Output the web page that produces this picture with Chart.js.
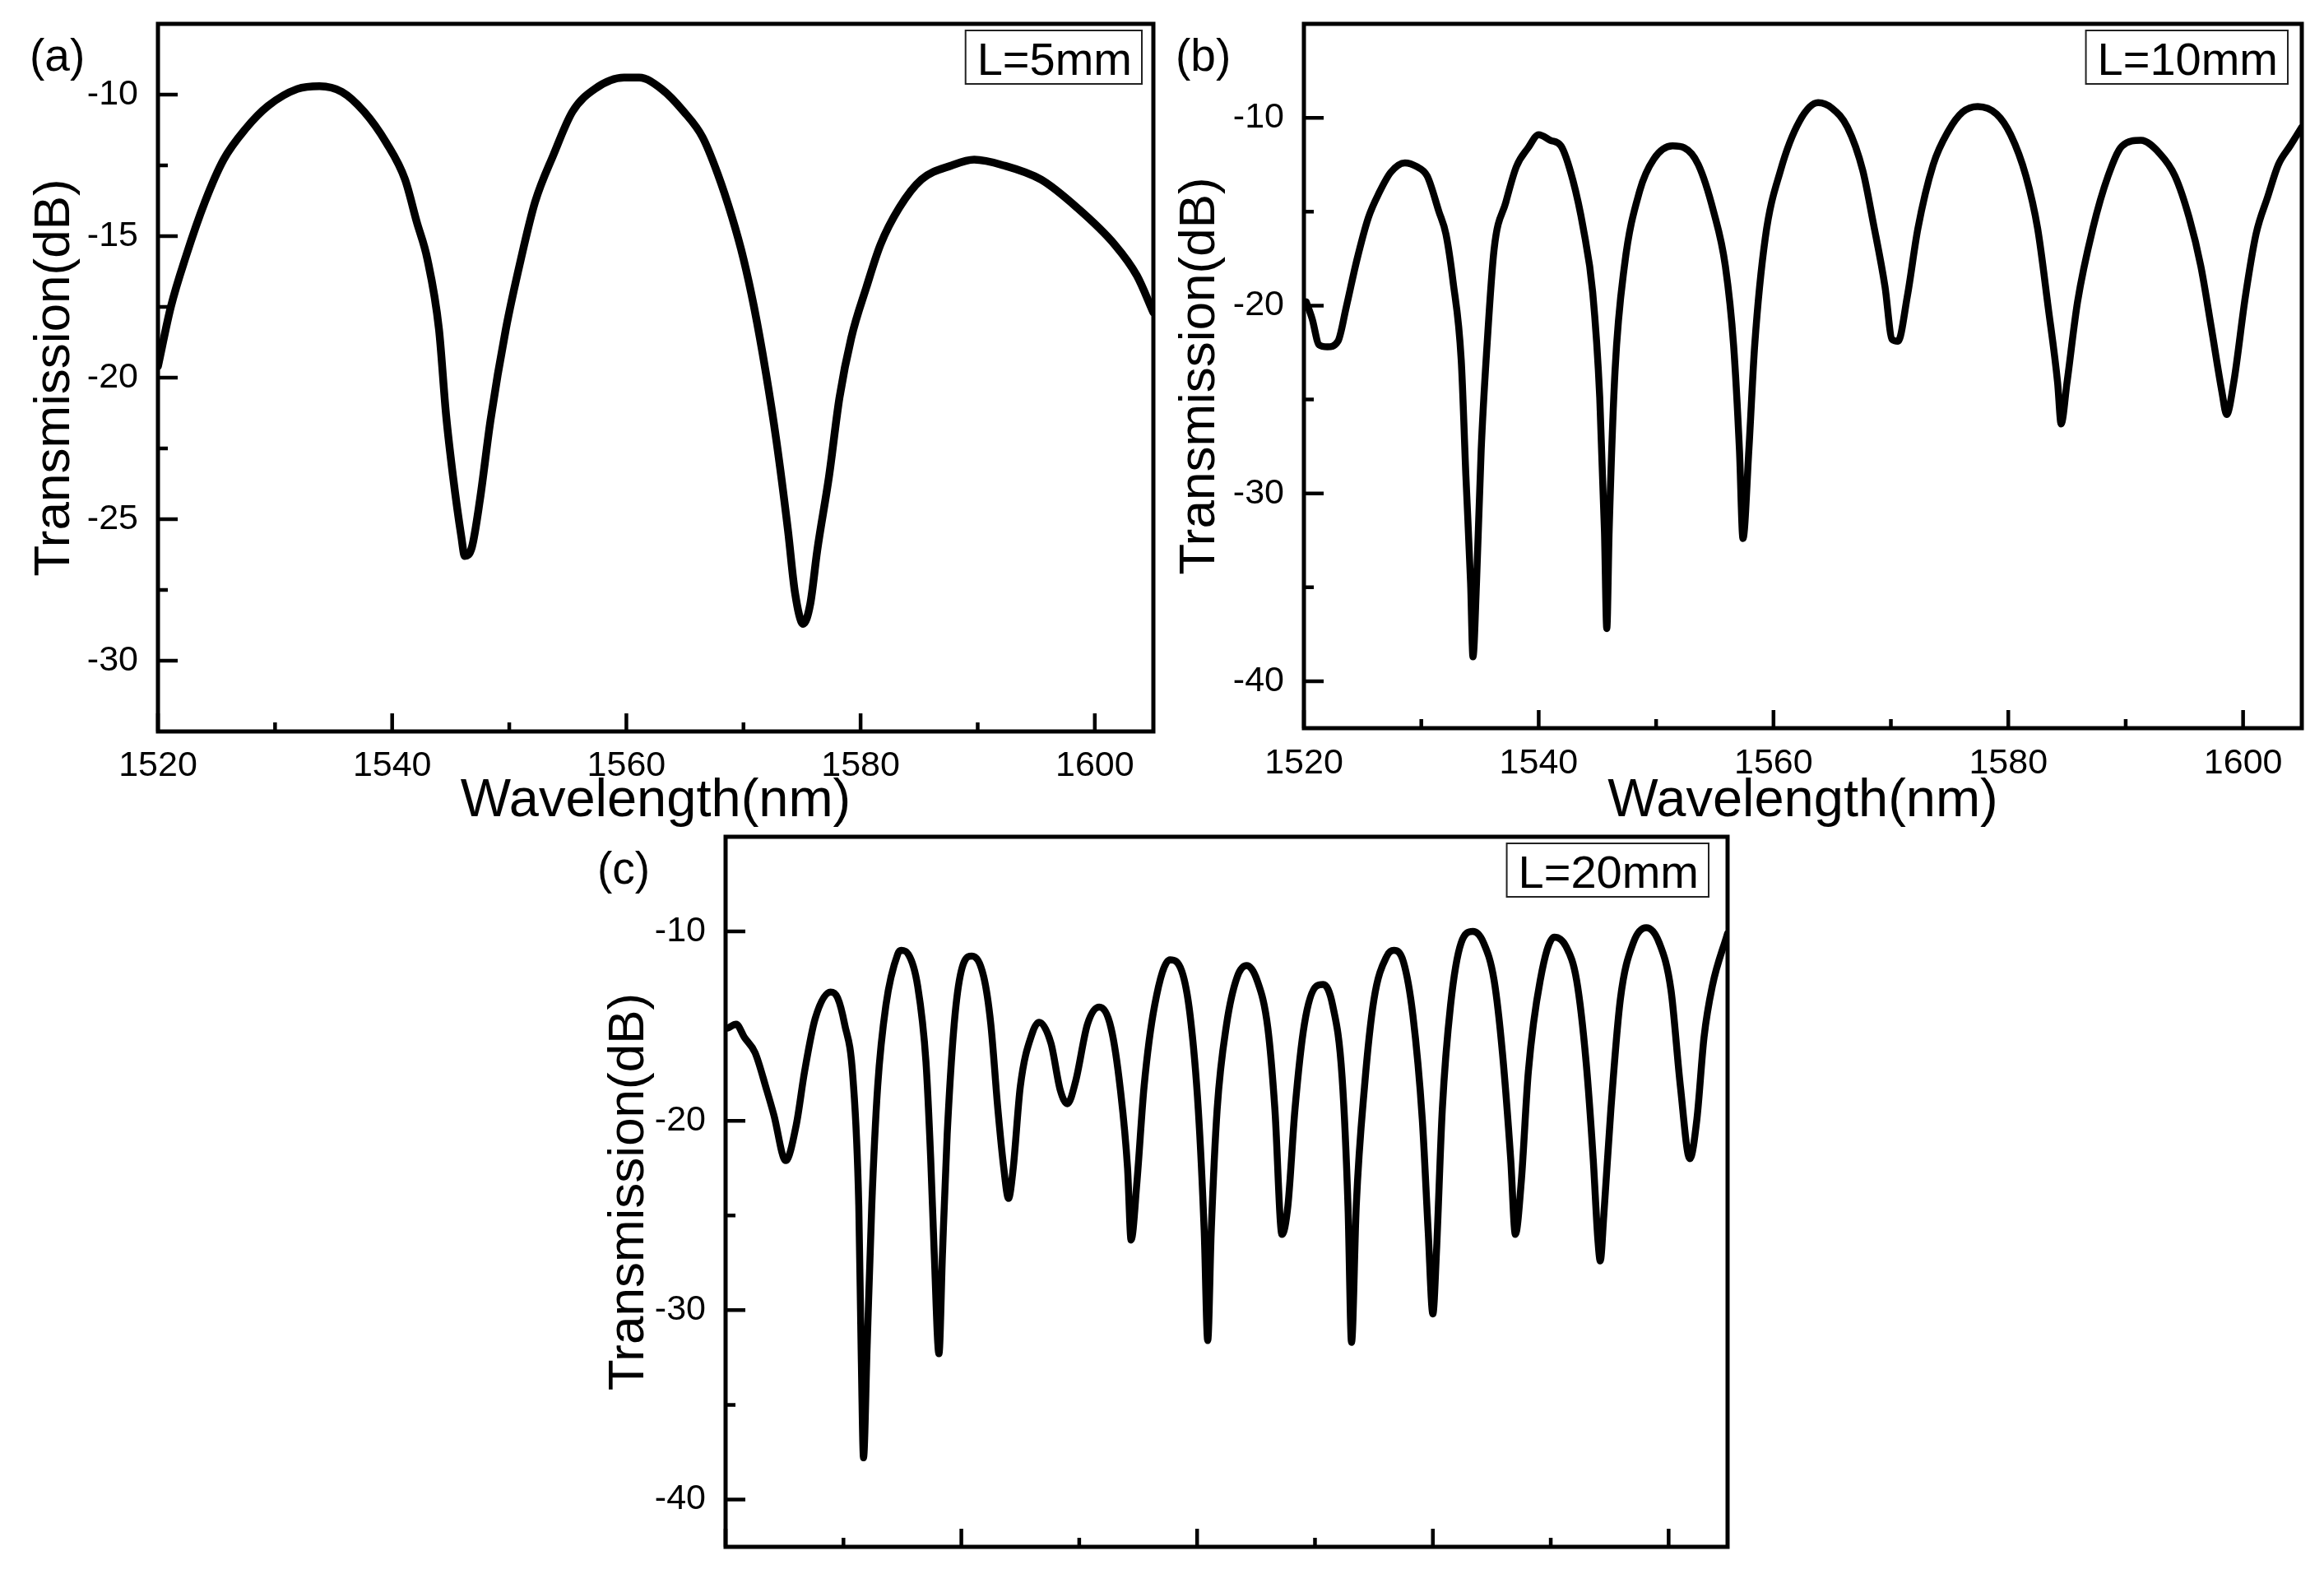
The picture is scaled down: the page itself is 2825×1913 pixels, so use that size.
<!DOCTYPE html>
<html lang="en">
<head>
<meta charset="UTF-8">
<title>Transmission spectra, L = 5, 10, 20 mm</title>
<script src="https://cdn.jsdelivr.net/npm/chart.js"></script>
<style>
    body { margin: 0; background: #fff; }
    #page { position: relative; width: 2825px; height: 1913px; overflow: hidden; background: #fff; }
    canvas { position: absolute; left: 0; top: 0; }
</style>
</head>
<body>
<div id="page">
    <canvas id="chartA" width="2825" height="1913"></canvas>
    <canvas id="chartB" width="2825" height="1913"></canvas>
    <canvas id="chartC" width="2825" height="1913"></canvas>
</div>

<script>
// tick values shared by the three panels
var xMajor = [1520, 1540, 1560, 1580, 1600];
var xMinor = [1530, 1550, 1570, 1590];
var yMajorA = [-30, -25, -20, -15, -10];
var yMinorA = [-27.5, -22.5, -17.5, -12.5];
var yMajorBC = [-40, -30, -20, -10];
var yMinorBC = [-35, -25, -15];

// (a) L=5mm, wavelength (nm) / transmission (dB)
var wlA = [1520.0, 1521.1, 1522.4, 1524.0, 1525.6, 1527.5, 1529.4, 1531.9, 1533.8, 1535.7,
           1537.6, 1539.5, 1541.1, 1542.1, 1543.0, 1544.0, 1544.6, 1545.2, 1545.9, 1546.2,
           1546.8, 1547.5, 1548.4, 1549.7, 1551.0, 1552.2, 1553.8, 1555.4, 1557.3, 1559.8,
           1561.1, 1563.0, 1564.9, 1566.5, 1567.8, 1569.0, 1570.0, 1570.9, 1571.9, 1572.8,
           1573.8, 1574.4, 1575.1, 1575.7, 1576.3, 1577.3, 1578.2, 1579.2, 1580.5, 1581.7,
           1583.3, 1585.2, 1587.8, 1589.7, 1592.2, 1595.4, 1598.5, 1601.7, 1603.6, 1605.0];
var tA = [-19.6, -17.5, -15.7, -13.8, -12.3, -11.2, -10.4, -9.8, -9.7, -9.9,
          -10.6, -11.7, -13.0, -14.5, -15.8, -18.3, -21.3, -23.5, -25.6, -26.3,
          -26.0, -24.3, -21.5, -18.3, -15.8, -13.8, -12.1, -10.6, -9.8, -9.4,
          -9.4, -9.8, -10.6, -11.5, -12.8, -14.3, -15.8, -17.5, -19.8, -22.2,
          -25.4, -27.6, -28.7, -28.0, -26.1, -23.5, -20.7, -18.6, -16.8, -15.3,
          -14.0, -13.0, -12.5, -12.3, -12.5, -13.0, -14.0, -15.3, -16.4, -17.7];

// (b) L=10mm
var wlB = [1520.2, 1520.7, 1521.3, 1522.0, 1522.9, 1523.6, 1524.5, 1525.5, 1526.4, 1527.4,
           1528.6, 1529.6, 1530.5, 1531.5, 1532.1, 1532.7, 1533.4, 1533.8, 1534.2, 1534.4,
           1534.7, 1535.1, 1535.6, 1536.2, 1537.2, 1538.1, 1539.1, 1540.0, 1541.0, 1541.9,
           1542.9, 1543.8, 1544.6, 1545.2, 1545.6, 1545.8, 1546.0, 1546.5, 1547.3, 1548.6,
           1549.8, 1551.4, 1552.4, 1553.6, 1554.9, 1555.9, 1556.6, 1557.1, 1557.4, 1557.9,
           1558.4, 1559.3, 1560.6, 1562.2, 1563.8, 1565.0, 1566.3, 1567.6, 1568.5, 1569.5,
           1570.1, 1570.6, 1571.4, 1572.3, 1573.6, 1574.9, 1576.1, 1577.4, 1579.0, 1580.2,
           1581.5, 1582.5, 1583.4, 1584.2, 1584.5, 1585.0, 1585.9, 1587.2, 1588.5, 1589.7,
           1591.3, 1592.9, 1594.2, 1595.4, 1596.4, 1597.3, 1598.2, 1598.6, 1599.2, 1600.2,
           1601.1, 1602.1, 1603.0, 1604.0, 1605.0];
var tB = [-19.8, -20.7, -22.1, -22.2, -21.9, -20.1, -17.6, -15.3, -14.0, -12.9,
          -12.4, -12.6, -13.1, -15.0, -16.2, -18.7, -22.9, -29.1, -34.8, -38.7,
          -34.8, -27.7, -22.1, -17.0, -14.5, -12.6, -11.6, -10.9, -11.2, -11.5,
          -13.3, -15.9, -19.3, -24.9, -32.0, -37.2, -32.0, -23.5, -17.9, -13.9,
          -12.2, -11.5, -11.6, -12.5, -15.0, -17.9, -22.1, -27.7, -32.4, -27.7,
          -22.1, -16.4, -12.8, -10.2, -9.2, -9.5, -10.5, -12.8, -15.6, -19.0,
          -21.8, -21.9, -19.5, -15.9, -12.5, -10.7, -9.7, -9.4, -9.8, -10.9,
          -13.1, -15.9, -20.1, -24.1, -26.3, -24.1, -19.8, -15.9, -13.1, -11.5,
          -11.2, -11.9, -13.1, -15.3, -17.9, -21.2, -24.6, -25.8, -24.1, -19.5,
          -16.2, -14.2, -12.5, -11.5, -10.5];

// (c) L=20mm
var wlC = [1520.2, 1520.9, 1521.6, 1522.5, 1523.5, 1524.1, 1525.1, 1526.0, 1526.7, 1527.6,
           1528.9, 1529.5, 1530.1, 1530.8, 1531.3, 1531.5, 1531.7, 1532.0, 1532.4, 1532.9,
           1533.6, 1534.6, 1534.9, 1535.5, 1536.3, 1537.0, 1537.4, 1537.7, 1538.1, 1538.4,
           1538.8, 1539.6, 1540.9, 1541.9, 1542.5, 1543.1, 1543.6, 1544.0, 1544.4, 1545.0,
           1546.0, 1546.6, 1547.6, 1548.4, 1549.0, 1549.7, 1550.7, 1551.7, 1552.7, 1553.5,
           1554.1, 1554.4, 1554.9, 1555.5, 1556.4, 1557.7, 1558.7, 1559.4, 1560.1, 1560.6,
           1560.9, 1561.2, 1561.7, 1562.5, 1563.4, 1564.2, 1565.1, 1566.0, 1566.6, 1567.2,
           1567.7, 1568.3, 1569.1, 1570.1, 1570.7, 1571.5, 1572.3, 1572.8, 1573.1, 1573.5,
           1574.2, 1575.0, 1576.1, 1576.7, 1577.5, 1578.3, 1579.1, 1579.6, 1580.0, 1580.3,
           1580.8, 1581.5, 1582.4, 1583.4, 1584.3, 1585.2, 1585.9, 1586.6, 1587.0, 1587.5,
           1588.1, 1589.1, 1590.3, 1591.3, 1592.2, 1593.0, 1593.6, 1594.0, 1594.2, 1594.5,
           1595.1, 1595.9, 1597.0, 1598.1, 1599.2, 1600.2, 1601.0, 1601.8, 1602.4, 1603.0,
           1603.7, 1605.0];
var tC = [-15.1, -14.9, -15.6, -16.4, -18.4, -19.7, -22.1, -20.2, -17.4, -14.6,
          -13.2, -13.5, -14.9, -17.7, -24.5, -32.1, -37.8, -32.1, -24.5, -18.2,
          -13.9, -11.2, -11.0, -11.2, -12.9, -16.9, -22.0, -27.0, -32.3, -27.0,
          -20.7, -13.6, -11.3, -12.4, -14.9, -19.4, -22.5, -24.1, -22.5, -18.2,
          -15.4, -14.8, -15.9, -18.4, -19.1, -17.9, -14.9, -14.0, -15.1, -18.4,
          -22.5, -26.3, -23.2, -18.2, -13.9, -11.5, -12.1, -14.4, -19.4, -25.8,
          -31.6, -25.8, -19.4, -14.9, -12.4, -11.8, -12.6, -15.1, -19.4, -26.0,
          -24.5, -19.4, -14.9, -12.9, -12.8, -13.9, -17.7, -24.5, -31.7, -24.5,
          -18.2, -13.6, -11.3, -11.0, -11.6, -14.4, -19.9, -25.8, -30.2, -27.0,
          -19.4, -13.9, -10.6, -10.0, -10.6, -12.6, -16.4, -22.0, -26.0, -23.2,
          -17.4, -12.6, -10.3, -10.8, -12.6, -16.9, -22.0, -26.3, -27.4, -25.0,
          -19.4, -13.6, -10.6, -9.8, -10.6, -13.1, -18.2, -22.0, -19.9, -15.6,
          -12.9, -10.1];

Chart.defaults.font.family = '"Liberation Sans", Arial, sans-serif';
Chart.defaults.color = '#000';

// box frame, inward ticks, panel letter and the L=..mm note
var framePlugin = {
    id: 'frame',
    afterDatasetsDraw: function(chart, args, o) {
        var ctx = chart.ctx;
        var a = chart.chartArea;
        var xs = chart.scales.x;
        var ys = chart.scales.y;
        ctx.save();
        ctx.strokeStyle = '#000';
        ctx.lineJoin = 'miter';
        ctx.lineCap = 'butt';
        ctx.lineWidth = 5;
        ctx.strokeRect(a.left, a.top, a.right - a.left, a.bottom - a.top);

        ctx.lineWidth = 4.5;
        ctx.beginPath();
        xMajor.forEach(function(v) {
            var px = xs.getPixelForValue(v);
            ctx.moveTo(px, a.bottom); ctx.lineTo(px, a.bottom - 22);
        });
        xMinor.forEach(function(v) {
            var px = xs.getPixelForValue(v);
            ctx.moveTo(px, a.bottom); ctx.lineTo(px, a.bottom - 11);
        });
        o.yMajor.forEach(function(v) {
            var py = ys.getPixelForValue(v);
            ctx.moveTo(a.left, py); ctx.lineTo(a.left + 24, py);
        });
        o.yMinor.forEach(function(v) {
            var py = ys.getPixelForValue(v);
            ctx.moveTo(a.left, py); ctx.lineTo(a.left + 12, py);
        });
        ctx.stroke();

        // panel letter
        ctx.fillStyle = '#000';
        ctx.textBaseline = 'alphabetic';
        ctx.textAlign = 'left';
        ctx.font = '55px "Liberation Sans", Arial, sans-serif';
        ctx.fillText(o.letter, a.left - 156, a.top + 57);

        // note box in the top right corner
        ctx.font = '56px "Liberation Sans", Arial, sans-serif';
        var w = ctx.measureText(o.note).width + 26;
        var bx = a.right - o.noteGap - w;
        var by = a.top + 8;
        ctx.lineWidth = 2;
        ctx.strokeStyle = '#222';
        ctx.strokeRect(bx, by, w, 65);
        ctx.fillText(o.note, bx + 14, by + 54);
        ctx.restore();
    }
};

function plainTick(v) {
    return String(v);
}

function makePanel(id, wl, tr, p) {
    var points = wl.map(function(x, i) { return {x: x, y: tr[i]}; });
    return new Chart(document.getElementById(id), {
        type: 'line',
        data: {
            datasets: [{
                data: points,
                borderColor: '#000',
                borderWidth: p.lineWidth,
                pointRadius: 0,
                cubicInterpolationMode: 'monotone',
                borderJoinStyle: 'round',
                borderCapStyle: 'round'
            }]
        },
        options: {
            responsive: false,
            animation: false,
            devicePixelRatio: 1,
            events: [],
            layout: { padding: p.pad },
            plugins: {
                legend: { display: false },
                tooltip: { enabled: false },
                frame: { letter: p.letter, note: p.note, noteGap: p.noteGap, yMajor: p.yMajor, yMinor: p.yMinor }
            },
            scales: {
                x: {
                    type: 'linear',
                    min: 1520,
                    max: 1605,
                    afterBuildTicks: function(s) { s.ticks = xMajor.map(function(v) { return {value: v}; }); },
                    afterFit: function(s) {
                        s.height = p.xH;
                        s.paddingLeft = 0;
                        s.paddingRight = 0;
                    },
                    grid: { display: false, drawTicks: false },
                    border: { display: false },
                    ticks: { display: p.xLabels, autoSkip: false, maxRotation: 0, padding: p.xTickPad, font: { size: 43 }, callback: plainTick },
                    title: { display: p.xLabels, text: 'Wavelength(nm)', font: { size: 65 }, padding: 0 }
                },
                y: {
                    type: 'linear',
                    min: p.yMin,
                    max: p.yMax,
                    afterBuildTicks: function(s) { s.ticks = p.yMajor.map(function(v) { return {value: v}; }); },
                    // keep the plot box where the layout padding puts it
                    afterFit: function(s) {
                        s.width = 192;
                        s.paddingTop = 0;
                        s.paddingBottom = 0;
                    },
                    grid: { display: false, drawTicks: false },
                    border: { display: false },
                    ticks: { autoSkip: false, padding: 24, font: { size: 43 }, callback: plainTick },
                    title: { display: true, text: 'Transmission(dB)', font: { size: 62 }, padding: { top: p.yTitlePad, bottom: 0 } }
                }
            }
        },
        plugins: [framePlugin]
    });
}

makePanel('chartA', wlA, tA, {
    letter: '(a)', note: 'L=5mm', noteGap: 14, lineWidth: 9.5,
    yMin: -32.5, yMax: -7.5, yMajor: yMajorA, yMinor: yMinorA,
    pad: { left: 0, top: 29, right: 1423, bottom: 900 }, xH: 124, xTickPad: 16,
    xLabels: true, yTitlePad: 30
});

makePanel('chartB', wlB, tB, {
    letter: '(b)', note: 'L=10mm', noteGap: 17, lineWidth: 8.5,
    yMin: -42.5, yMax: -5, yMajor: yMajorBC, yMinor: yMinorBC,
    pad: { left: 1393, top: 29, right: 27, bottom: 900 }, xH: 128, xTickPad: 17,
    xLabels: true, yTitlePad: 29
});

makePanel('chartC', wlC, tC, {
    letter: '(c)', note: 'L=20mm', noteGap: 23, lineWidth: 8.5,
    yMin: -42.5, yMax: -5, yMajor: yMajorBC, yMinor: yMinorBC,
    pad: { left: 690, top: 1017, right: 725, bottom: 0 }, xH: 33, xTickPad: 16,
    xLabels: false, yTitlePad: 38
});
</script>
</body>
</html>
